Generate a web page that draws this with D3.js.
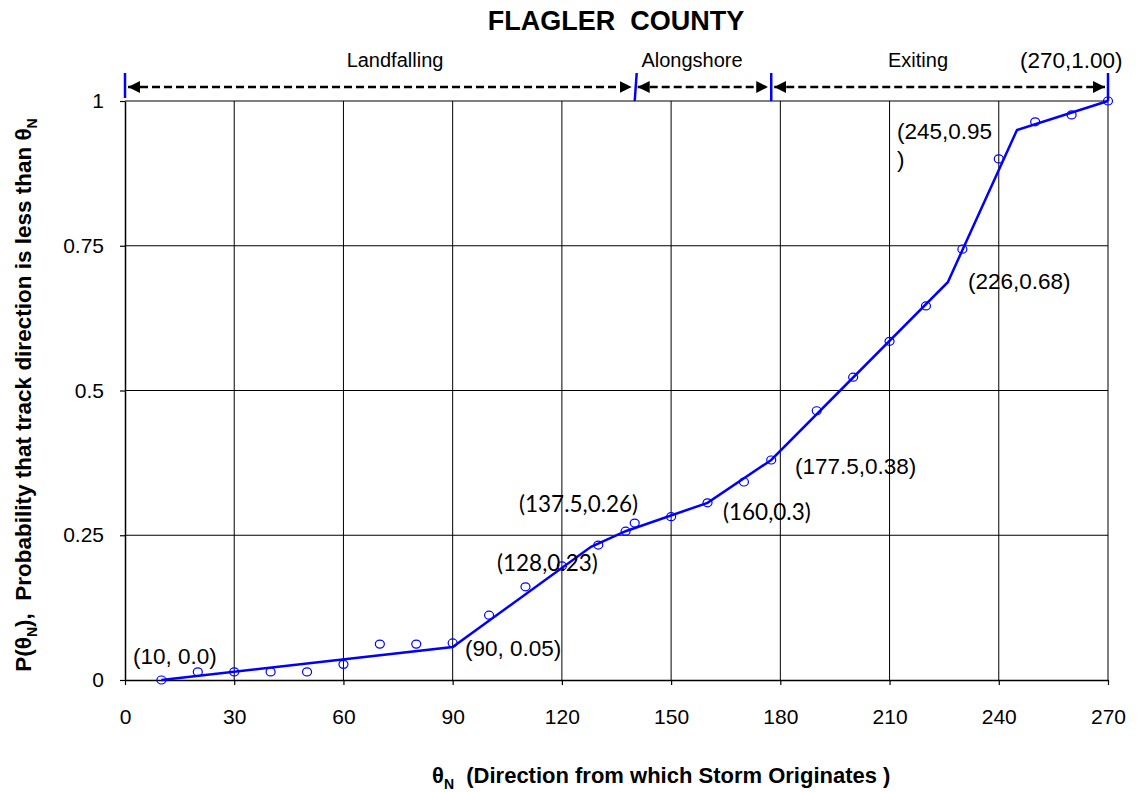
<!DOCTYPE html>
<html><head><meta charset="utf-8">
<script src="https://cdn.jsdelivr.net/npm/d3@7"></script>
<style>body{margin:0;background:#fff;} svg{display:block;font-family:"Liberation Sans",Arial,sans-serif;}</style>
</head><body>
<svg id="chart" width="1139" height="792"></svg>
<script>
// Observed cumulative probabilities
const obsTheta = [10,20,30,40,50,60,70,80,90,100,110,120,130,137.5,140,150,160,170,177.5,190,200,210,220,230,240,250,260,270];
const obsProb  = [0.0,0.014,0.014,0.014,0.014,0.027,0.062,0.062,0.064,0.112,0.161,0.197,0.233,0.257,0.271,0.282,0.306,0.342,0.38,0.465,0.523,0.585,0.646,0.744,0.90,0.964,0.976,1.0];
// Piecewise-linear fit breakpoints
const fitTheta = [10,90,128,137.5,160,177.5,226,245,270];
const fitProb  = [0.0,0.057,0.23,0.257,0.306,0.38,0.687,0.95,1.0];
// Labelled breakpoints
const labelText = ["(10, 0.0)","(90, 0.05)","(128,0.23)","(137.5,0.26)","(160,0.3)","(177.5,0.38)","(226,0.68)","(245,0.95",")","(270,1.00)"];
const xTicks = [0,30,60,90,120,150,180,210,240,270];
const yTicks = [0,0.25,0.5,0.75,1];
const yTickLabels = ["0","0.25","0.5","0.75","1"];
// Regions along the top
const regionNames = ["Landfalling","Alongshore","Exiting"];
const regionBounds = [0,140,177.5,270];

const svg = d3.select("#chart");
const m = {l:125, r:1108, t:101, b:680};
const x = d3.scaleLinear().domain([0,270]).range([m.l,m.r]);
const y = d3.scaleLinear().domain([0,1]).range([m.b,m.t]);

// grid
const g = svg.append("g");
g.selectAll(".vg").data(xTicks.slice(1)).enter().append("line")
  .attr("x1",d=>x(d)).attr("x2",d=>x(d)).attr("y1",y(0)).attr("y2",y(1))
  .attr("stroke","#000").attr("stroke-width",1);
g.selectAll(".hg").data(yTicks.slice(1)).enter().append("line")
  .attr("x1",x(0)).attr("x2",x(270)).attr("y1",d=>y(d)).attr("y2",d=>y(d))
  .attr("stroke","#000").attr("stroke-width",1);

// axes
const xAxis = d3.axisBottom(x).tickValues(xTicks).tickSize(5).tickPadding(24).tickSizeOuter(0);
const gx = svg.append("g").attr("transform",`translate(0,${y(0)})`).call(xAxis);
gx.select(".domain").attr("stroke","#000").attr("stroke-width",1.5);
gx.selectAll(".tick line").attr("stroke","#000").attr("stroke-width",1.2);
gx.selectAll("text").attr("font-size",21).attr("fill","#000").attr("font-family","Liberation Sans, Arial, sans-serif");

const yAxis = d3.axisLeft(y).tickValues(yTicks).tickFormat((d,i)=>yTickLabels[i]).tickSize(5).tickPadding(16).tickSizeOuter(0);
const gy = svg.append("g").attr("transform",`translate(${x(0)},0)`).call(yAxis);
gy.select(".domain").attr("stroke","#000").attr("stroke-width",1.5);
gy.selectAll(".tick line").attr("stroke","#000").attr("stroke-width",1.2);
gy.selectAll("text").attr("font-size",21).attr("fill","#000").attr("font-family","Liberation Sans, Arial, sans-serif");

// fitted line
const line = d3.line().x((d,i)=>x(fitTheta[i])).y((d,i)=>y(fitProb[i]));
svg.append("path").datum(fitTheta).attr("d",line).attr("fill","none")
  .attr("stroke","#0000ff").attr("stroke-width",2.5).attr("stroke-linejoin","miter");

// observed markers
svg.selectAll(".pt").data(obsTheta).enter().append("ellipse")
  .attr("cx",d=>x(d)).attr("cy",(d,i)=>y(obsProb[i])).attr("rx",4.5).attr("ry",4)
  .attr("fill","none").attr("stroke","#0000ff").attr("stroke-width",1.2);

// point labels
const labelPos = [
  {x:133,y:664,f:"Liberation Sans"},
  {x:465,y:656,f:"Liberation Sans"},
  {x:497,y:571,f:"Lato"},
  {x:519,y:512,f:"Lato"},
  {x:723,y:520,f:"Lato"},
  {x:795,y:474,f:"Liberation Sans"},
  {x:968,y:289,f:"Liberation Sans"},
  {x:897,y:139,f:"Liberation Sans"},
  {x:897,y:167,f:"Liberation Sans"},
  {x:1020,y:68,f:"Liberation Sans"}
];
svg.selectAll(".lbl").data(labelText).enter().append("text")
  .attr("x",(d,i)=>labelPos[i].x).attr("y",(d,i)=>labelPos[i].y)
  .attr("font-family",(d,i)=>labelPos[i].f).attr("font-size",22.5).attr("fill","#000")
  .text(d=>d);

// top region arrows
const defs = svg.append("defs");
defs.append("marker").attr("id","ah").attr("viewBox","0 0 10 10").attr("refX",10).attr("refY",5)
  .attr("markerWidth",12).attr("markerHeight",12).attr("markerUnits","userSpaceOnUse").attr("orient","auto-start-reverse")
  .append("path").attr("d","M0,0L10,5L0,10Z").attr("fill","#000");
const arrowY = 87;
const regionLabelX = [395,692,918];
for (let i=0;i<regionNames.length;i++){
  const a = x(regionBounds[i])+3, b = x(regionBounds[i+1])-3;
  svg.append("line").attr("x1",a).attr("x2",b).attr("y1",arrowY).attr("y2",arrowY)
    .attr("stroke","#000").attr("stroke-width",2.5).attr("stroke-dasharray","8,4")
    .attr("marker-start","url(#ah)").attr("marker-end","url(#ah)");
  svg.append("text").attr("x",regionLabelX[i]).attr("y",67)
    .attr("text-anchor","middle").attr("font-size",20).attr("fill","#000").text(regionNames[i]);
}
svg.selectAll(".bnd").data(regionBounds).enter().append("line")
  .attr("x1",d=>x(d)+ (d===140?2:0)).attr("x2",d=>x(d)).attr("y1",73).attr("y2",(d,i)=>i===0?98:101)
  .attr("stroke","#0000ff").attr("stroke-width",2.5);

// title
svg.append("text").attr("x",616).attr("y",30).attr("text-anchor","middle")
  .attr("font-size",27).attr("font-weight","bold").attr("fill","#000")
  .style("white-space","pre").text("FLAGLER  COUNTY");

// x-axis title
const xt = svg.append("text").attr("x",432).attr("y",783).attr("text-anchor","start")
  .attr("font-size",22).attr("font-weight","bold").attr("fill","#000").style("white-space","pre");
xt.append("tspan").text("θ");
xt.append("tspan").attr("font-size",14).attr("dy",6).text("N");
xt.append("tspan").attr("dy",-6).text("  (Direction from which Storm Originates )");

// y-axis title
const yt = svg.append("text").attr("transform","translate(31,395) rotate(-90)").attr("text-anchor","middle")
  .attr("font-size",22.5).attr("font-weight","bold").attr("fill","#000").style("white-space","pre");
yt.append("tspan").text("P(θ");
yt.append("tspan").attr("font-size",14).attr("dy",6).text("N");
yt.append("tspan").attr("dy",-6).text("),  Probability that track direction is less than θ");
yt.append("tspan").attr("font-size",14).attr("dy",6).text("N");
</script>
</body></html>
